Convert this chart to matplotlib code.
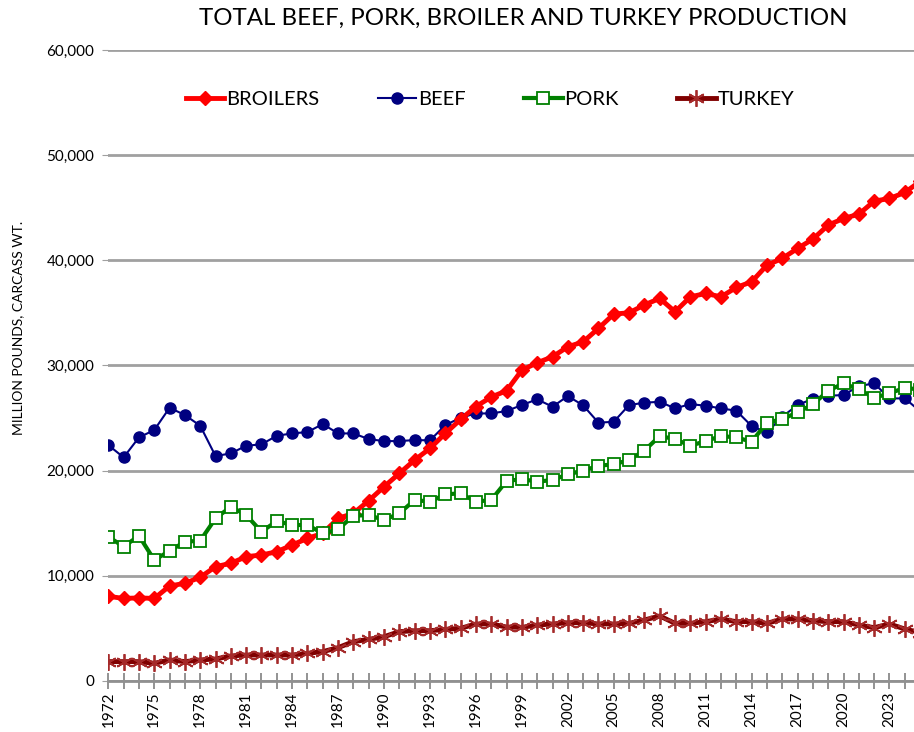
import numpy as np
import matplotlib
matplotlib.use('Agg')
import matplotlib.pyplot as plt
from matplotlib.ticker import FuncFormatter, MultipleLocator

plt.rcParams['font.family'] = ['Lato', 'DejaVu Sans']

years = list(range(1972, 2026))

broilers = [8050, 7850, 7900, 7850, 9030, 9290, 9860, 10870, 11190, 11820,
            11980, 12290, 12930, 13560, 14040, 15460, 15940, 17140, 18470, 19740,
            21010, 22120, 23540, 24870, 26100, 27000, 27600, 29560, 30260, 30830,
            31780, 32250, 33530, 34890, 35010, 35760, 36380, 35110, 36530, 36850,
            36530, 37420, 37960, 39540, 40180, 41130, 42020, 43350, 43980, 44390,
            45630, 45880, 46450, 47500]

beef = [22430, 21260, 23160, 23860, 25980, 25290, 24270, 21390, 21640, 22370,
        22500, 23320, 23540, 23670, 24430, 23540, 23540, 23000, 22810, 22810,
        22910, 22880, 24330, 25030, 25440, 25440, 25670, 26240, 26780, 26080,
        27090, 26210, 24560, 24650, 26240, 26460, 26550, 25920, 26330, 26170,
        25920, 25700, 24240, 23640, 25130, 26240, 26840, 27120, 27190, 28040,
        28300, 26870, 26870, 25650]

pork = [13720, 12770, 13810, 11500, 12360, 13240, 13340, 15460, 16570, 15780,
        14190, 15210, 14830, 14830, 14040, 14420, 15710, 15780, 15300, 15940,
        17210, 17050, 17750, 17840, 17050, 17210, 19010, 19200, 18950, 19110,
        19650, 19990, 20470, 20600, 21010, 21910, 23290, 23000, 22370, 22810,
        23290, 23160, 22750, 24560, 24900, 25540, 26300, 27600, 28300, 27730,
        26930, 27350, 27880, 27700]

turkey = [1840, 1840, 1840, 1680, 2000, 1840, 2000, 2090, 2380, 2470,
          2470, 2470, 2470, 2630, 2790, 3170, 3740, 3960, 4210, 4690,
          4780, 4780, 4910, 5010, 5420, 5420, 5130, 5100, 5320, 5420,
          5540, 5540, 5420, 5420, 5480, 5800, 6180, 5480, 5480, 5640,
          5890, 5640, 5640, 5480, 5890, 5890, 5730, 5640, 5640, 5320,
          5070, 5420, 4940, 4600]

fig = plt.figure(figsize=(9.14, 7.32), dpi=100)
ax = fig.add_axes([0.1185, 0.0697, 0.8815, 0.862])

ax.plot(years, broilers, color='#FF0000', linewidth=3.5, marker='D',
        markersize=7.5, label='BROILERS', zorder=3)
ax.plot(years, beef, color='#000080', linewidth=1.5, marker='o',
        markersize=8, label='BEEF', zorder=2)
ax.plot(years, pork, color='#008000', linewidth=3, marker='s',
        markersize=8.5, markerfacecolor='white', markeredgecolor='#008000',
        markeredgewidth=1.3, label='PORK', zorder=4)
ax.plot(years, turkey, color='#800000', linewidth=3.5, marker=(6, 2, 0),
        markersize=12, markeredgecolor='#a52a2a', markeredgewidth=1.3,
        label='TURKEY', zorder=3)

ax.set_xlim(1972, 2024.6)
ax.set_ylim(0, 60000)

ax.yaxis.set_major_locator(MultipleLocator(10000))
ax.yaxis.set_major_formatter(FuncFormatter(lambda v, p: f'{int(v):,}'))
ax.grid(axis='y', color='#a0a0a0', linewidth=2)
ax.set_axisbelow(True)

ax.set_xticks(list(range(1972, 2025, 3)))
ax.set_xticks(years[:53], minor=True)
ax.tick_params(axis='x', which='both', direction='inout', length=11,
               color='#808080', width=1.2, labelrotation=90, labelsize=11,
               pad=2)
ax.tick_params(axis='y', length=4, color='#a0a0a0', labelsize=11, pad=6)

for s in ['top', 'right', 'left']:
    ax.spines[s].set_visible(False)
ax.spines['bottom'].set_color('#909090')
ax.spines['bottom'].set_linewidth(2)

fig.text(18 / 914, 1 - 328 / 732, 'MILLION POUNDS, CARCASS WT.', rotation=90,
         ha='center', va='center', fontsize=10)

fig.text(523 / 914, 1 - 18 / 732, 'TOTAL BEEF, PORK, BROILER AND TURKEY PRODUCTION',
         ha='center', va='center', fontsize=17.3)

ax.legend(loc='center', bbox_to_anchor=(0.474, 0.921), ncol=4, frameon=False,
          fontsize=14.5, handlelength=1.9, handletextpad=0.1, columnspacing=2.9)

fig.savefig('out.png', dpi=100)
